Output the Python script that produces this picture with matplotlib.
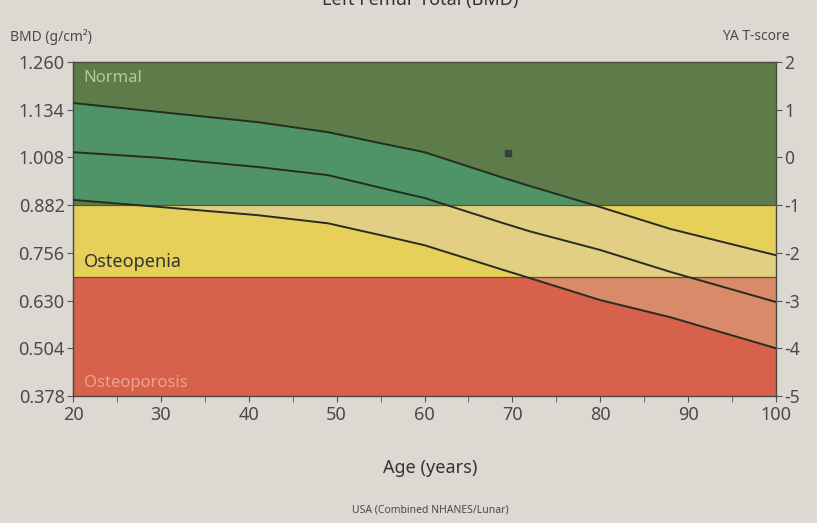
import numpy as np
import matplotlib
matplotlib.use("Agg")
import matplotlib.pyplot as plt
from matplotlib.patches import Rectangle

plt.rcParams['font.family'] = ['Noto Sans', 'DejaVu Sans']

# reference curves (T-score units)
ages = [20, 30, 41, 49, 56, 60, 69, 72, 80, 88, 100]
upper_t = [1.14, 0.95, 0.74, 0.53, 0.26, 0.11, -0.43, -0.60, -1.04, -1.50, -2.05]
mid_t = [0.11, -0.01, -0.20, -0.37, -0.68, -0.85, -1.38, -1.55, -1.94, -2.40, -3.03]
lower_t = [-0.89, -1.04, -1.21, -1.38, -1.67, -1.84, -2.36, -2.53, -2.99, -3.35, -4.00]

# patient point
pt_age, pt_t = 69.5, 0.09

bmd_ticks = [0.378, 0.504, 0.630, 0.756, 0.882, 1.008, 1.134, 1.260]
t_ticks = [-5, -4, -3, -2, -1, 0, 1, 2]
age_ticks = [20, 30, 40, 50, 60, 70, 80, 90, 100]

# zones: (low T, high T, base colour, colour inside reference range)
zones = [(-1.0, 2.0, '#5e7c4a', '#4f9466'),
         (-2.5, -1.0, '#e7d05a', '#e3cf83'),
         (-5.0, -2.5, '#d8614b', '#d98a68')]

def t2bmd(t):
    return 1.008 + 0.126 * np.asarray(t)

def bmd2t(b):
    return (np.asarray(b) - 1.008) / 0.126

bg = '#dcd9d3'
txt = '#4a4a4a'
fig = plt.figure(figsize=(8.17, 5.23), dpi=100, facecolor=bg)
ax = fig.add_axes([73/817, 1 - 396/523, 703/817, 334/523])
ax.set_xlim(20, 100)
ax.set_ylim(-5, 2)

for lo, hi, c, c2 in zones:
    ax.axhspan(lo, hi, color=c, lw=0, zorder=0)
    poly = ax.fill_between(ages, lower_t, upper_t, color=c2, lw=0, zorder=1)
    clip = Rectangle((20, lo), 80, hi - lo, transform=ax.transData)
    poly.set_clip_path(clip)

ax.axhline(-1, color='#55552e', lw=0.9, zorder=2)
ax.axhline(-2.5, color='#6a4a2a', lw=0.9, zorder=2)

for vals in (upper_t, mid_t, lower_t):
    ax.plot(ages, vals, color='#262d20', lw=1.4, zorder=3)

ax.plot(pt_age, pt_t, marker='s', ms=5, color='#3a3f3a', zorder=4)

ax.text(21.2, 1.66, 'Normal', color='#b3c99a', fontsize=12, va='center', zorder=5)
ax.text(21.2, -2.19, 'Osteopenia', color='#333333', fontsize=13, va='center', zorder=5)
ax.text(21.2, -4.73, 'Osteoporosis', color='#eea28d', fontsize=12, va='center', zorder=5)

# right axis: T-score
ax.yaxis.tick_right()
ax.set_yticks(t_ticks)
ax.set_yticklabels([str(t) for t in t_ticks])
ax.set_xticks(age_ticks)
ax.set_xticks(np.arange(25, 100, 10), minor=True)
ax.tick_params(axis='both', which='both', direction='out', colors='#555555',
               labelcolor=txt, labelsize=12.5, length=4)
ax.tick_params(axis='x', labelsize=13)
ax.tick_params(axis='y', pad=2)
for s in ax.spines.values():
    s.set_color('#4a4a40')
    s.set_linewidth(1.0)

# left axis: BMD
sec = ax.secondary_yaxis('left', functions=(t2bmd, bmd2t))
sec.set_yticks(bmd_ticks)
sec.set_yticklabels(['%.3f' % b for b in bmd_ticks])
sec.tick_params(direction='out', colors='#555555', labelcolor=txt, labelsize=13, length=4, pad=2)
sec.spines['left'].set_color('#4a4a40')

fig.text(10/817, 1 - 37/523, 'BMD (g/cm²)', color=txt, fontsize=10, va='center')
fig.text(790/817, 1 - 37/523, 'YA T-score', color=txt, fontsize=10, va='center', ha='right')
fig.text(430/817, 1 - 468/523, 'Age (years)', color='#333333', fontsize=13, ha='center', va='center')
fig.text(430/817, 1 - 510/523, 'USA (Combined NHANES/Lunar)', color=txt, fontsize=7.5, ha='center', va='center')
# title is cut off at the top edge in the reference photo
fig.text(420/817, 1.0, 'Left Femur Total (BMD)', color='#333333', fontsize=13, fontweight='bold',
         ha='center', va='center')

fig.savefig('out.png', dpi=100, facecolor=bg)
